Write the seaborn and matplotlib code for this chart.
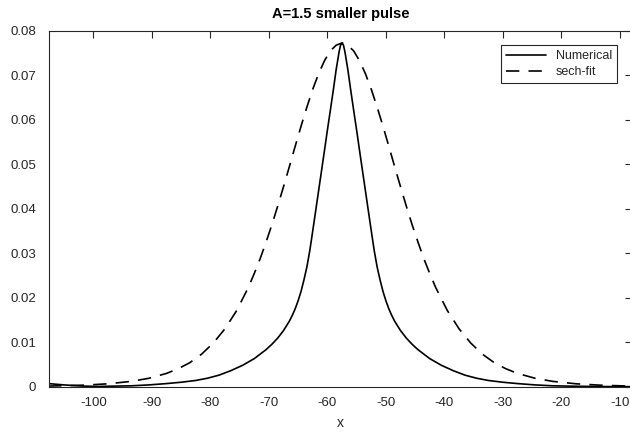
import matplotlib
matplotlib.use("Agg")
import matplotlib.pyplot as plt
import seaborn as sns
import pandas as pd

# ---- data ----
num_x = [-107.7, -105, -102, -99, -97.5, -93.5, -90.5, -87.5, -85, -82.5, -80.5, -78.5,
         -76.5, -74.5, -72.5, -71.5, -70.5, -69.5, -68.5, -67.5, -66.5, -66, -65.5, -65,
         -64.5, -64, -63.5, -63, -62.5, -62, -61.5, -61, -60.5, -60, -59.5, -59, -58.5,
         -58, -57.75, -57.5, -57.25,
         -57, -56.5, -56, -55.5, -55, -54.5, -54, -53.5, -53, -52.5, -52, -51.5, -51,
         -50.5, -50, -49.5, -49, -48.5, -47.5, -46.5, -45.5, -44.5, -43.5, -42.5, -40.5,
         -38.5, -36.5, -34.5, -32.5, -30, -27.5, -24.5, -21.5, -17.5, -12.5, -8]
num_y = [0.0007, 0.0004, 0.00015, 0.00005, 0.0001, 0.0002, 0.0004, 0.0007, 0.0010, 0.0014,
         0.0019, 0.0026, 0.0036, 0.0048, 0.0063, 0.0073, 0.0083, 0.0095, 0.0109, 0.0126,
         0.0147, 0.0160, 0.0175, 0.0193, 0.0214, 0.0240, 0.0269, 0.0306, 0.0350, 0.0395,
         0.0440, 0.0485, 0.0530, 0.0576, 0.0620, 0.0665, 0.0712, 0.0752, 0.0767, 0.0772,
         0.0767,
         0.0752, 0.0712, 0.0665, 0.0620, 0.0576, 0.0530, 0.0485, 0.0440, 0.0395, 0.0350,
         0.0306, 0.0269, 0.0240, 0.0214, 0.0193, 0.0175, 0.0160, 0.0147, 0.0126, 0.0109,
         0.0095, 0.0083, 0.0073, 0.0063, 0.0048, 0.0036, 0.0026, 0.0019, 0.0014, 0.0010,
         0.0007, 0.0004, 0.0002, 0.0001, 0.00003, 0.00001]

fit_x = [-107.7, -101.5, -97.5, -93.5, -90.5, -87.5, -85.5, -83.5, -81.5, -79.5, -77.5,
         -75.5, -73.5, -72.5, -71.5, -70.5, -69.5, -68.5, -67.5, -66.5, -65.5, -64.5,
         -63.5, -62.5, -61.5, -60.5, -59.5, -58.5, -57.5, -56.5, -55.5, -54.5, -53.5,
         -52.5, -51.5, -50.5, -49.5, -48.5, -47.5, -46.5, -45.5, -44.5, -43.5, -42.5,
         -41.5, -39.5, -37.5, -35.5, -33.5, -31.5, -29.5, -27.5, -24.5, -21.5, -17.5,
         -13.5, -8]
fit_y = [0.00014, 0.00035, 0.00065, 0.00120, 0.00189, 0.00298, 0.00403, 0.0054, 0.0073,
         0.0098, 0.0130, 0.0171, 0.0223, 0.0254, 0.0287, 0.0324, 0.0363, 0.0405, 0.0449,
         0.0494, 0.0540, 0.0585, 0.0628, 0.0668, 0.0703, 0.0732, 0.0754, 0.0767, 0.0772,
         0.0767, 0.0754, 0.0732, 0.0703, 0.0668, 0.0628, 0.0585, 0.0540, 0.0494, 0.0449,
         0.0405, 0.0363, 0.0324, 0.0287, 0.0254, 0.0223, 0.0171, 0.0130, 0.0098, 0.0073,
         0.0054, 0.00403, 0.00298, 0.00189, 0.00120, 0.00065, 0.00035, 0.00012]

series_labels = ["Numerical", "sech-fit"]
x_ticks = [-100, -90, -80, -70, -60, -50, -40, -30, -20, -10]
y_ticks = [0, 0.01, 0.02, 0.03, 0.04, 0.05, 0.06, 0.07, 0.08]
y_tick_labels = ["0", "0.01", "0.02", "0.03", "0.04", "0.05", "0.06", "0.07", "0.08"]
title = "A=1.5 smaller pulse"
x_label = "x"

# ---- style ----
sns.set_theme(style="white")
plt.rcParams["font.family"] = ["Liberation Sans", "DejaVu Sans"]
spine_c = "#262626"

fig = plt.figure(figsize=(6.3, 4.32), dpi=100)
W, H = 630, 432
ax = fig.add_axes([48.8 / W, 45.3 / H, 583.2 / W, 356.2 / H])

df_num = pd.DataFrame({"x": num_x, "y": num_y})
df_fit = pd.DataFrame({"x": fit_x, "y": fit_y})
sns.lineplot(data=df_num, x="x", y="y", ax=ax, color="black", linewidth=1.2,
             estimator=None, sort=False, label=series_labels[0])
sns.lineplot(data=df_fit, x="x", y="y", ax=ax, color="black", linewidth=1.2,
             estimator=None, sort=False, label=series_labels[1])
ax.lines[1].set_dashes([8, 5.5])

ax.set_xlim(-107.6, -7.95)
ax.set_ylim(0, 0.08)
ax.set_xticks(x_ticks)
ax.set_xticklabels([str(t) for t in x_ticks])
ax.set_yticks(y_ticks)
ax.set_yticklabels(y_tick_labels)

for s in ax.spines.values():
    s.set_visible(True)
    s.set_color(spine_c)
    s.set_linewidth(0.8)

ax.tick_params(direction="in", top=True, right=True, length=5, width=0.8,
               color=spine_c, labelsize=9.5, labelcolor="#262626", pad=9)
ax.tick_params(axis="x", pad=7.5)

ax.set_xlabel(x_label, fontsize=10, color="#262626", labelpad=5)
ax.set_ylabel("")
ax.set_title(title, fontsize=10.5, fontweight="bold", color="black", pad=9)

leg = ax.legend(loc="upper right", bbox_to_anchor=(0.974, 0.959), borderaxespad=0,
                fancybox=False, frameon=True, framealpha=1, edgecolor=spine_c,
                fontsize=9, handlelength=3.2, handletextpad=0.8, borderpad=0.4,
                labelspacing=0.35)
leg.get_frame().set_linewidth(0.8)
for line in leg.get_lines():
    line.set_linewidth(1.2)

fig.savefig("out.png", dpi=100)
